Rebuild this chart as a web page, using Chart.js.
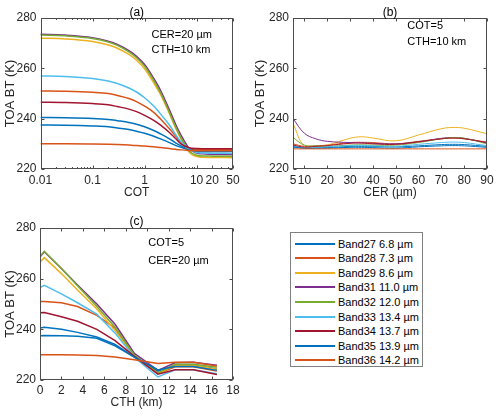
<!DOCTYPE html>
<html>
<head>
<meta charset="utf-8">
<script src="https://cdn.jsdelivr.net/npm/chart.js@4"></script>
<style>
  body { margin: 0; background: #fff; width: 500px; height: 416px; position: relative; overflow: hidden; font-family: "Liberation Sans", Arial, sans-serif; }
  canvas { position: absolute; }
  #legend { position: absolute; left: 290px; top: 232px; width: 133px; height: 135px; border: 1px solid #808080; box-sizing: border-box; background: #fff; }
  .lg-row { position: absolute; left: 0; height: 14px; width: 100%; }
  .lg-line { position: absolute; left: 4px; top: 6px; width: 40px; height: 2px; }
  .lg-text { position: absolute; left: 47px; top: 0; font-size: 11px; line-height: 14px; color: #000; white-space: nowrap; }
</style>
</head>
<body>
<canvas id="chA" width="250" height="205" style="left:0;top:0"></canvas>
<canvas id="chB" width="250" height="205" style="left:250px;top:0"></canvas>
<canvas id="chC" width="250" height="206" style="left:0;top:210px"></canvas>
<div id="legend"></div>

<script>
// series names and colours (MATLAB default order)
const bands = ['Band27 6.8 µm', 'Band28 7.3 µm', 'Band29 8.6 µm', 'Band31 11.0 µm', 'Band32 12.0 µm',
  'Band33 13.4 µm', 'Band34 13.7 µm', 'Band35 13.9 µm', 'Band36 14.2 µm'];
const colors = ['#0072BD', '#D95319', '#EDB120', '#7E2F8E', '#77AC30', '#4DBEEE', '#A2142F', '#0072BD', '#D95319'];

// (a) BT vs COT, CER=20 um, CTH=10 km
const cot = [0.01, 0.03, 0.1, 0.2, 0.3, 0.5, 0.7, 1, 1.5, 2, 3, 4, 5, 7, 10, 20, 50];
const aB27 = [240.5, 240.4, 240.1, 239.7, 239.2, 238.5, 237.8, 236.8, 235.3, 234.0, 232.0, 230.3, 229.2, 228.0, 227.6, 227.5, 227.5];
const aB28 = [251.0, 250.9, 250.5, 250.0, 249.2, 248.0, 246.8, 245.0, 242.5, 240.0, 236.0, 233.0, 230.5, 228.3, 227.8, 227.7, 227.7];
const aB29 = [272.0, 271.7, 270.7, 269.3, 268.0, 265.5, 263.2, 259.8, 254.2, 249.8, 242.0, 236.0, 232.0, 227.0, 225.0, 224.6, 224.5];
const aB31 = [273.5, 273.2, 272.2, 270.8, 269.5, 267.0, 264.8, 261.5, 256.0, 251.5, 243.5, 237.5, 233.5, 228.5, 226.3, 225.8, 225.7];
const aB32 = [273.2, 272.9, 271.9, 270.5, 269.1, 266.5, 264.2, 260.8, 255.2, 250.5, 242.5, 236.5, 232.5, 227.5, 225.5, 225.1, 225.0];
const aB33 = [257.0, 256.8, 256.0, 255.0, 254.0, 252.2, 250.6, 248.3, 245.0, 242.0, 237.5, 233.5, 230.8, 228.0, 226.6, 226.3, 226.2];
const aB34 = [246.5, 246.4, 246.0, 245.5, 244.8, 243.8, 242.8, 241.3, 239.3, 237.5, 234.5, 232.0, 230.0, 228.5, 228.1, 228.0, 228.0];
const aB35 = [237.5, 237.4, 237.1, 236.8, 236.3, 235.7, 235.0, 234.2, 233.0, 232.0, 230.5, 229.3, 228.6, 227.6, 227.1, 227.0, 227.0];
const aB36 = [230.0, 230.0, 229.9, 229.8, 229.7, 229.5, 229.3, 229.1, 228.8, 228.5, 228.1, 227.8, 227.6, 227.4, 227.3, 227.3, 227.3];
const cotTicks = [0.01, 0.1, 1, 10, 20, 50];

// (b) BT vs CER, COT=5, CTH=10 km
const cer = [5, 10, 15, 20, 30, 35, 40, 50, 60, 70, 75, 80, 90];
const bB27 = [229.0, 228.3, 228.4, 228.5, 229.0, 229.0, 229.0, 228.8, 229.2, 229.7, 229.8, 229.7, 229.0];
const bB28 = [230.0, 229.0, 229.2, 229.5, 230.5, 230.6, 230.5, 230.0, 231.0, 232.0, 232.3, 232.0, 230.7];
const bB29 = [238.0, 229.0, 229.0, 229.5, 232.2, 232.8, 232.3, 231.2, 233.5, 236.0, 236.5, 236.2, 234.0];
const bB31 = [240.0, 234.2, 232.0, 231.0, 230.5, 230.4, 230.2, 230.0, 230.8, 232.2, 232.5, 232.2, 230.3];
const bB32 = [232.5, 229.5, 229.2, 229.0, 229.5, 229.6, 229.5, 229.5, 230.5, 232.0, 232.5, 232.2, 230.0];
const bB33 = [229.2, 228.5, 228.6, 228.8, 229.3, 229.4, 229.2, 229.0, 229.8, 230.5, 230.7, 230.5, 229.3];
const bB34 = [229.5, 228.7, 229.0, 229.3, 230.2, 230.3, 230.0, 229.8, 230.8, 232.0, 232.3, 232.0, 230.5];
const bB35 = [228.7, 228.2, 228.2, 228.3, 228.6, 228.6, 228.5, 228.3, 228.8, 229.2, 229.3, 229.2, 228.6];
const bB36 = [228.0, 228.0, 228.0, 228.0, 228.0, 228.0, 228.0, 228.0, 228.0, 228.0, 228.0, 228.0, 228.0];
const cerTicks = [5, 10, 20, 30, 40, 50, 60, 70, 80, 90];

// (c) BT vs CTH, COT=5, CER=20 um
const cth = [0, 0.4, 2, 3.5, 5.3, 7, 8.8, 11, 12.6, 14.3, 16.5];
const cB27 = [240.5, 240.8, 240.0, 238.8, 237.0, 234.0, 229.0, 223.5, 225.8, 225.8, 224.3];
const cB28 = [251.0, 251.0, 250.5, 249.0, 245.5, 240.5, 229.5, 222.5, 225.2, 225.2, 223.5];
const cB29 = [266.5, 268.3, 262.0, 255.5, 248.0, 239.5, 229.5, 222.5, 225.8, 225.8, 224.2];
const cB31 = [268.5, 270.6, 264.0, 257.5, 250.0, 242.0, 230.5, 223.8, 226.8, 227.0, 225.8];
const cB32 = [268.8, 270.8, 264.0, 257.2, 249.0, 240.8, 229.8, 222.8, 226.2, 226.2, 225.0];
const cB33 = [256.5, 257.4, 254.0, 250.5, 246.0, 238.5, 229.0, 221.2, 224.0, 224.0, 222.5];
const cB34 = [246.5, 246.6, 245.0, 243.2, 240.0, 235.5, 229.3, 222.3, 224.0, 224.0, 222.2];
const cB35 = [237.5, 237.6, 237.5, 237.3, 236.5, 233.5, 229.0, 224.0, 225.3, 225.3, 223.8];
const cB36 = [230.0, 230.0, 230.0, 229.9, 229.7, 229.1, 228.0, 226.5, 227.0, 227.0, 225.5];
const cthTicks = [0, 2, 4, 6, 8, 10, 12, 14, 16, 18];

const btTicks = [220, 240, 260, 280];
const FONT = '"Liberation Sans", Arial, sans-serif';

// box with inward ticks on all four sides, panel title and annotation text
const matlabBox = {
  id: 'matlabBox',
  afterDatasetsDraw(chart, args, opts) {
    const { ctx, chartArea: a, scales: { x, y } } = chart;
    const L = Math.round(a.left) + 0.5, R = Math.round(a.right) - 0.5;
    const T = Math.round(a.top) + 0.5, B = Math.round(a.bottom) - 0.5;
    ctx.save();
    ctx.strokeStyle = '#4d4d4d';
    ctx.lineWidth = 1;
    ctx.strokeRect(L, T, R - L, B - T);
    ctx.beginPath();
    const xt = (v, len) => {
      const p = Math.round(x.getPixelForValue(v)) + 0.5;
      ctx.moveTo(p, B); ctx.lineTo(p, B - len);
      ctx.moveTo(p, T); ctx.lineTo(p, T + len);
    };
    x.ticks.forEach(t => xt(t.value, 3));
    (opts.minor || []).forEach(v => xt(v, 1.5));
    y.ticks.forEach(t => {
      const p = Math.round(y.getPixelForValue(t.value)) + 0.5;
      ctx.moveTo(L, p); ctx.lineTo(L + 3, p);
      ctx.moveTo(R, p); ctx.lineTo(R - 3, p);
    });
    ctx.stroke();
    ctx.fillStyle = '#000';
    ctx.textBaseline = 'middle';
    ctx.font = '12px ' + FONT;
    ctx.textAlign = 'center';
    ctx.fillText(opts.title, (a.left + a.right) / 2, opts.titleY);
    ctx.font = '11px ' + FONT;
    ctx.textAlign = 'left';
    (opts.notes || []).forEach(n => ctx.fillText(n.text, n.x, n.y));
    ctx.restore();
  }
};

const makeSets = (xs, series, width, mode) => series.map((vals, i) => ({
  label: bands[i],
  data: xs.map((v, k) => ({ x: v, y: vals[k] })),
  borderColor: colors[i],
  borderWidth: width,
  pointRadius: 0,
  fill: false,
  order: series.length - i,
  ...(mode === 'monotone' ? { cubicInterpolationMode: 'monotone' } : { tension: mode })
}));

const makeChart = (id, o) => new Chart(document.getElementById(id), {
  type: 'line',
  data: { datasets: o.datasets },
  plugins: [matlabBox],
  options: {
    responsive: false,
    animation: false,
    events: [],
    layout: { padding: { left: 0, right: o.padRight, top: 18, bottom: 0 } },
    plugins: {
      legend: { display: false },
      tooltip: { enabled: false },
      matlabBox: { title: o.title, titleY: o.titleY, notes: o.notes, minor: o.minor }
    },
    scales: {
      x: {
        type: o.xType,
        min: o.xMin,
        max: o.xMax,
        afterBuildTicks: s => { s.ticks = o.xTicks.map(v => ({ value: v })); },
        afterFit: s => { s.height = 36; },
        grid: { display: false, drawTicks: false },
        border: { display: false },
        ticks: { autoSkip: false, maxRotation: 0, padding: o.xTickPad, color: '#262626', font: { size: 12, family: FONT },
          callback: v => String(v) },
        title: { display: true, text: o.xTitle, color: '#262626', font: { size: 12, family: FONT }, padding: { top: 0, bottom: o.xTitlePad } }
      },
      y: {
        min: 220,
        max: 280,
        afterBuildTicks: s => { s.ticks = btTicks.map(v => ({ value: v })); },
        afterFit: s => { s.width = o.yWidth; },
        grid: { display: false, drawTicks: false },
        border: { display: false },
        ticks: { padding: 4, color: '#262626', font: { size: 12, family: FONT } },
        title: { display: true, text: 'TOA BT (K)', color: '#262626', font: { size: 13, family: FONT }, padding: { top: 3, bottom: 0 } }
      }
    }
  }
});

const minorLog = [];
[0.01, 0.1, 1, 10].forEach(d => { for (let k = 2; k <= 9; k++) if (d * k <= 50 && d * k !== 20 && d * k !== 50) minorLog.push(d * k); });

makeChart('chA', {
  datasets: makeSets(cot, [aB27, aB28, aB29, aB31, aB32, aB33, aB34, aB35, aB36], 1.5, 'monotone'),
  xType: 'logarithmic', xMin: 0.01, xMax: 50, xTicks: cotTicks, xTitle: 'COT', xTitlePad: 5, xTickPad: 4,
  yWidth: 40.5, padRight: 17, minor: minorLog,
  title: '(a)', titleY: 12.5,
  notes: [{ text: 'CER=20 µm', x: 151.5, y: 35 }, { text: 'CTH=10 km', x: 151.5, y: 49.5 }]
});

makeChart('chB', {
  datasets: makeSets(cer, [bB27, bB28, bB29, bB31, bB32, bB33, bB34, bB35, bB36], 1, 0.4),
  xType: 'linear', xMin: 5, xMax: 90, xTicks: cerTicks, xTitle: 'CER (µm)', xTitlePad: 5, xTickPad: 4,
  yWidth: 43, padRight: 13,
  title: '(b)', titleY: 13,
  notes: [{ text: 'COT=5', x: 157.3, y: 25.5 }, { text: 'CTH=10 km', x: 157.3, y: 41.5 }]
});

makeChart('chC', {
  datasets: makeSets(cth, [cB27, cB28, cB29, cB31, cB32, cB33, cB34, cB35, cB36], 1.5, 0),
  xType: 'linear', xMin: 0, xMax: 18, xTicks: cthTicks, xTitle: 'CTH (km)', xTitlePad: 6, xTickPad: 3,
  yWidth: 40, padRight: 17,
  title: '(c)', titleY: 12,
  notes: [{ text: 'COT=5', x: 148.3, y: 33 }, { text: 'CER=20 µm', x: 148.3, y: 51 }]
});

// legend box
const legend = document.getElementById('legend');
legend.innerHTML = bands.map((b, i) => `<div class="lg-row" style="top:${3.5 + i * 14.6}px">
  <span class="lg-line" style="background:${colors[i]}"></span><span class="lg-text">${b}</span></div>`).join('');
</script>
</body>
</html>
